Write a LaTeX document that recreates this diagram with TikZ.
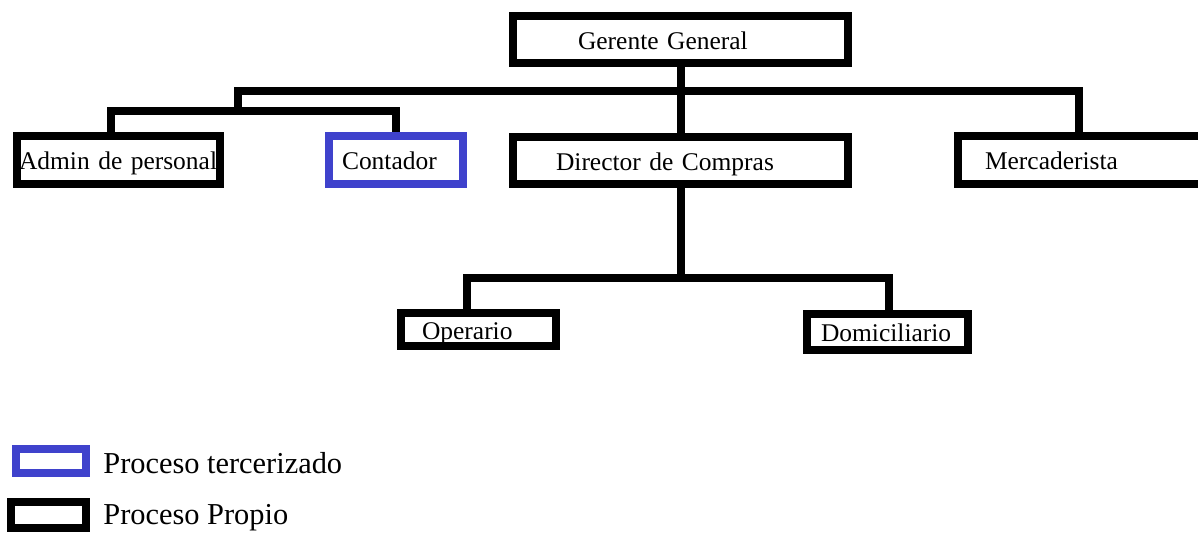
\documentclass[tikz,border=0pt]{standalone}
\usepackage{fontspec}
\setmainfont{Liberation Serif}
\usepackage{tikz}
\usepackage{xcolor}
\usetikzlibrary{positioning}

\definecolor{azulter}{RGB}{63,66,204}

\tikzset{
  puesto/.style={draw, line width=0.16cm, inner ysep=0pt, align=left,
    text height=0.46cm, text depth=0.08cm,
    font=\fontsize{14.5}{17}\selectfont},
  enlace/.style={line width=0.16cm},
  leyenda/.style={anchor=west, inner sep=0pt, font=\fontsize{17.3}{20}\selectfont}
}

\begin{document}
\begin{tikzpicture}[x=0.02cm, y=-0.02cm]
    \clip (0,0) rectangle (1198,535);
    \fill[white] (0,0) rectangle (1198,535);

    % cargos
    \node[puesto, minimum height=0.94cm, inner xsep=1.30cm, text width=4.10cm] (ger) at (680.5, 39.5) {Gerente General};
    \node[puesto, minimum height=0.96cm, inner xsep=0.04cm, text width=3.98cm] (adm) at (118.5, 160) {Admin de personal};
    \node[puesto, draw=azulter, minimum height=0.96cm, inner xsep=0.26cm, text width=2.16cm] (con) at (396, 160) {Contador};
    \node[puesto, minimum height=0.94cm, inner xsep=0.86cm, text width=4.98cm] (dir) at (680.5, 160.5) {Director de Compras};
    \node[puesto, minimum height=0.96cm, inner xsep=0.54cm, text width=3.96cm] (mer) at (1084, 160) {Mercaderista};
    \node[puesto, minimum height=0.66cm, inner xsep=0.42cm, text width=2.26cm] (ope) at (478.5, 329.5) {Operario};
    \node[puesto, minimum height=0.72cm, inner xsep=0.28cm, text width=2.66cm] (dom) at (887.5, 332) {Domiciliario};

    % puntos de union
    \coordinate (busL) at (238, 91);
    \coordinate (busR) at (1079, 91);
    \coordinate (subL) at (111, 111);
    \coordinate (subR) at (396, 111);
    \coordinate (botL) at (467, 278);
    \coordinate (botR) at (889, 278);

    \draw[enlace] (ger) -- (dir);
    \draw[enlace] (busL |- subL) -- (busL) -- (busR) -- (busR |- mer.north);
    \draw[enlace] (subL |- adm.north) -- (subL) -- (subR) -- (con.north);
    \draw[enlace] (dir.south) -- (dir.south |- botL);
    \draw[enlace] (botL |- ope.north) -- (botL) -- (botR) -- (botR |- dom.north);

    % leyenda
    \node[draw=azulter, line width=0.15cm, minimum width=1.4cm, minimum height=0.48cm, inner sep=0pt] (keyT) at (51, 461) {};
    \node[draw, line width=0.16cm, minimum width=1.5cm, minimum height=0.52cm, inner sep=0pt] (keyP) at (48.5, 515) {};
    \node[leyenda] (legT) at (103, 463) {Proceso tercerizado};
    \node[leyenda] (legP) at (103, 518) {Proceso Propio};
\end{tikzpicture}
\end{document}
